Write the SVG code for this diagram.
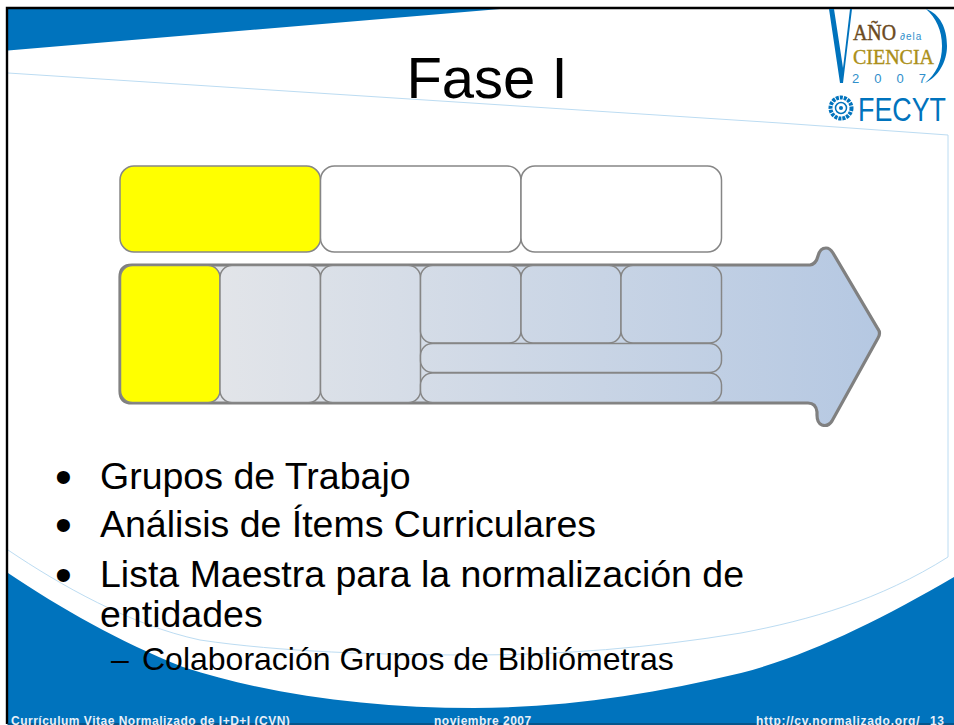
<svg xmlns="http://www.w3.org/2000/svg" width="954" height="725" viewBox="0 0 954 725">
<style>
.t{font-family:"Liberation Sans",Arial,sans-serif;fill:#000}
.b{font-size:37.5px}
.bu{font-size:48px}
.f{font-family:"Liberation Sans",Arial,sans-serif;font-size:12px;font-weight:bold;fill:#e8f0f8;letter-spacing:.5px}
.box{stroke:#868686;stroke-width:1.5}
.lg{fill:#0073bd}
</style>
<defs>
<linearGradient id="g" gradientUnits="userSpaceOnUse" x1="120" y1="0" x2="880" y2="0">
<stop offset="0" stop-color="#e9e9ea"/><stop offset="1" stop-color="#b5c8e2"/>
</linearGradient>
</defs>
<rect width="954" height="725" fill="#fff"/>
<g id="background">
<path d="M8 50.500L500 9H8Z" fill="#0073bd"/>
<path d="M8 573C60 608 120 642 183 667C270 695 370 708 474 708C560 708 650 695 741 673C810 655 880 620 954 577V725H8Z" fill="#0073bd"/>
<path d="M8 73L780 123L948 135V557" fill="none" stroke="#bcdcf2" stroke-width="1"/>
<path d="M8 550C60 585 130 625 200 640C280 652 380 655 474 655C560 655 650 648 741 633C810 620 880 600 948 557" fill="none" stroke="#bcdcf2" stroke-width="1"/>
<path d="M7 724V8H954" fill="none" stroke="#000" stroke-width="2.4"/>
<path d="M7 724H954" fill="none" stroke="#0a3a5c" stroke-width="1.2"/>
</g>
<g id="logo">
<path d="M829 9H834L843 68L850 9H852L843 83H840Z" class="lg"/>
<path d="M926 9C940 14 947 28 947 46C947 62 938 77 925 83C936 74 942 62 942 46C942 30 936 18 926 9Z" class="lg"/>
<text x="853" y="40" font-family="Liberation Serif,serif" font-size="24" fill="#6b4a1e" stroke="#6b4a1e" stroke-width=".5" textLength="43" lengthAdjust="spacingAndGlyphs">AÑO</text>
<text x="900" y="40" font-family="Liberation Sans,sans-serif" font-size="10" fill="#2f8fcb" letter-spacing="1">∂ela</text>
<text x="853" y="64" font-family="Liberation Serif,serif" font-size="22" fill="#ab8f18" stroke="#ab8f18" stroke-width=".4" textLength="81" lengthAdjust="spacingAndGlyphs">CIENCIA</text>
<text x="852" y="83" font-family="Liberation Sans,sans-serif" font-size="13" fill="#2f8fcb" letter-spacing="15">2007</text>
<circle cx="841" cy="108" r="10.500" fill="none" stroke="#0073bd" stroke-width="4" stroke-dasharray="3 1"/>
<circle cx="841" cy="108" r="5.500" fill="none" stroke="#0073bd" stroke-width="1.5"/>
<circle cx="841" cy="108" r="2" fill="#0073bd"/>
<text x="858" y="121" font-family="Liberation Sans,sans-serif" font-size="33" fill="#0073bd" textLength="88" lengthAdjust="spacingAndGlyphs">FECYT</text>
</g>
<g id="title"><text class="t" x="487" y="98" font-size="58" text-anchor="middle">Fase I</text></g>
<g id="arrow">
<path d="M132 265H810Q816 264 818 256Q820 248 826 248Q830 248 833 253L878 329Q881 333 878 338L832 421Q828 427 822 425Q817 423 817 415V412Q816 403 808 403H132Q120 403 120 391V277Q120 265 132 265Z" fill="url(#g)" stroke="#808080" stroke-width="3.2"/>
</g>
<g id="connectors"></g>
<g id="top1"><rect class="box" x="120" y="166" width="200.500" height="86" rx="14" fill="#ff0" stroke-width="2"/></g>
<g id="top2"><rect class="box" x="320.500" y="166" width="200.500" height="86" rx="14" fill="#fff" stroke-width="2"/></g>
<g id="top3"><rect class="box" x="521" y="166" width="200.500" height="86" rx="14" fill="#fff" stroke-width="2"/></g>
<g id="b1"><rect x="120.500" y="265.500" width="99.500" height="137" rx="12" fill="#ff0" stroke="#868686" stroke-width="1.5"/></g>
<g id="b2"><rect class="box" x="220" y="265.500" width="100.500" height="137" rx="12" fill="url(#g)"/></g>
<g id="b3"><rect class="box" x="320.500" y="265.500" width="100" height="137" rx="12" fill="url(#g)"/></g>
<g id="b4"><rect class="box" x="420.500" y="265.500" width="100.500" height="77.500" rx="12" fill="url(#g)"/></g>
<g id="b5"><rect class="box" x="521" y="265.500" width="100" height="77.500" rx="12" fill="url(#g)"/></g>
<g id="b6"><rect class="box" x="621" y="265.500" width="100.500" height="77.500" rx="12" fill="url(#g)"/></g>
<g id="b7"><rect class="box" x="420.500" y="343.500" width="301" height="29" rx="12" fill="url(#g)"/></g>
<g id="b8"><rect class="box" x="420.500" y="373" width="301" height="29.500" rx="12" fill="url(#g)"/></g>
<g id="text">
<text class="t bu" x="55" y="493">•</text><text class="t b" x="100" y="489">Grupos de Trabajo</text>
<text class="t bu" x="55" y="541">•</text><text class="t b" x="100" y="537">Análisis de Ítems Curriculares</text>
<text class="t bu" x="55" y="591">•</text><text class="t b" x="100" y="587">Lista Maestra para la normalización de</text>
<text class="t b" x="100" y="627">entidades</text>
<text class="t" x="111" y="670" font-size="32">–</text><text class="t" x="142" y="670" font-size="32">Colaboración Grupos de Bibliómetras</text>
</g>
<g id="footer">
<text class="f" x="11" y="725">Currículum Vitae Normalizado de I+D+I (CVN)</text>
<text class="f" x="434" y="725">noviembre 2007</text>
<text class="f" x="756" y="725" textLength="164">http://cv.normalizado.org/</text>
<text class="f" x="930" y="725">13</text>
</g>
</svg>
